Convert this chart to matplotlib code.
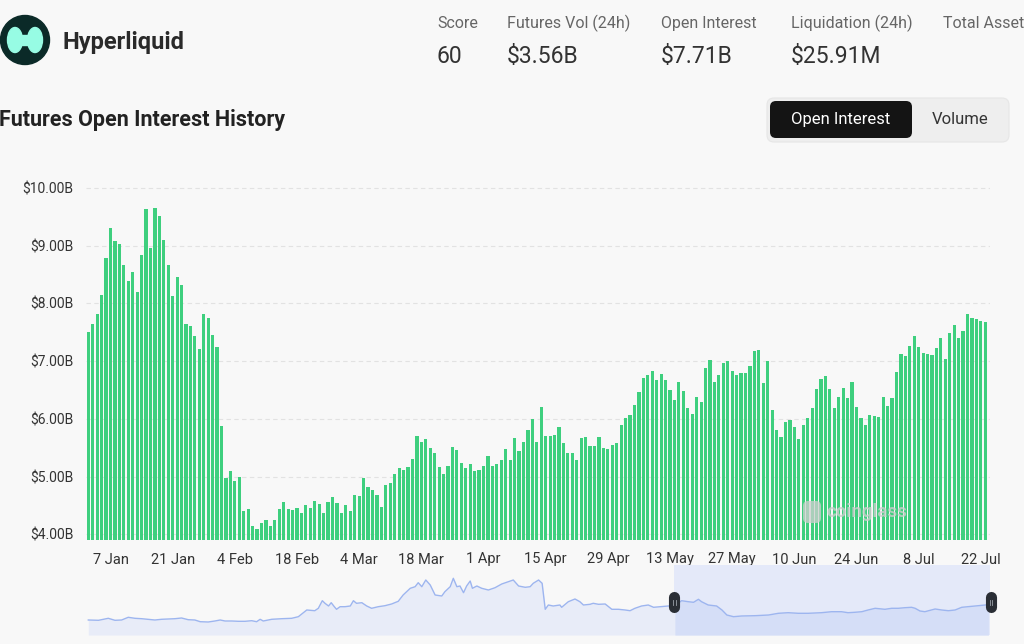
import matplotlib
matplotlib.use('Agg')
import matplotlib.pyplot as plt
import numpy as np
from matplotlib.patches import FancyBboxPatch, Ellipse, Circle, Rectangle

plt.rcParams['font.family'] = ['Roboto', 'DejaVu Sans']

# Daily futures open interest (in $B), 2 Jan -> 22 Jul
oi_values = [
    7.50, 7.64, 7.81, 8.15, 8.79, 9.31, 9.08, 9.03, 8.67, 8.38, 8.54, 8.20, 8.83, 9.64, 8.96,
    9.65, 9.52, 9.09, 8.66, 8.12, 8.46, 8.31, 7.65, 7.61, 7.43, 7.21, 7.81, 7.75, 7.45, 7.24,
    5.87, 4.98, 5.10, 4.92, 5.00,
    4.41, 4.43, 4.14, 4.09, 4.19, 4.25, 4.14, 4.25, 4.44, 4.55, 4.43, 4.42, 4.46, 4.36, 4.51,
    4.46, 4.58, 4.53, 4.37, 4.56, 4.65, 4.54, 4.36, 4.50, 4.40, 4.68, 4.66, 4.98, 4.82, 4.76,
    4.68, 4.47, 4.86, 4.89,
    5.05, 5.14, 5.11, 5.17, 5.30, 5.71, 5.59, 5.65, 5.49, 5.41, 5.17, 5.04, 5.19, 5.51, 5.46,
    5.23, 5.14, 5.21, 5.09, 5.11, 5.19, 5.35, 5.18, 5.22, 5.28, 5.48, 5.28, 5.66, 5.44, 5.59,
    5.81, 6.00, 5.59,
    6.21, 5.71, 5.70, 5.72, 5.86, 5.58, 5.40, 5.40, 5.28, 5.66, 5.69, 5.52, 5.52, 5.69, 5.50,
    5.47, 5.55, 5.58, 5.90, 6.01, 6.06, 6.24, 6.46, 6.71, 6.76, 6.82, 6.68, 6.77, 6.68, 6.50,
    6.33, 6.63, 6.48, 6.18,
    6.09, 6.37, 6.29, 6.88, 7.01, 6.64, 6.76, 6.96, 7.00, 6.82, 6.75, 6.79, 6.80, 6.92, 7.17,
    7.20, 6.62, 7.00, 6.15, 5.81, 5.69, 5.95, 5.98, 5.86, 5.65, 5.89, 6.02, 6.18, 6.52, 6.69,
    6.74, 6.51, 6.18, 6.37,
    6.53, 6.36, 6.63, 6.21, 6.02, 5.89, 6.07, 6.05, 6.03, 6.37, 6.22, 6.36, 6.81, 7.12, 7.08,
    7.26, 7.43, 7.25, 7.14, 7.12, 7.11, 7.23, 7.40, 7.04, 7.49, 7.62, 7.40, 7.52, 7.81, 7.75,
    7.72, 7.70, 7.67,
]
tick_idx = list(range(5, 203, 14))
tick_labels = ['7 Jan', '21 Jan', '4 Feb', '18 Feb', '4 Mar', '18 Mar', '1 Apr', '15 Apr',
               '29 Apr', '13 May', '27 May', '10 Jun', '24 Jun', '8 Jul', '22 Jul']
y_ticks = [4, 5, 6, 7, 8, 9, 10]

# navigator (overview) series, relative units, sampled at day index
nav_day = [0, 2.3, 4.5, 6.0, 7.5, 9.0, 10.5, 12.0, 13.5, 15.0, 16.5, 18.0, 19.5, 21.0, 22.5,
           24.0, 25.2, 27.0, 28.5, 29.7, 30.8, 32.3, 33.8, 35.3, 36.8, 37.9, 38.7, 39.4, 41.3,
           43.6, 45.8, 47.3, 49.2, 51.0, 51.8, 52.7, 53.3, 54.1, 54.7, 55.4, 55.9, 56.7, 57.8,
           59.0, 59.7, 60.4, 61.6, 62.7, 63.8, 65.3, 66.8, 68.3, 69.8, 70.9, 72.5, 73.6, 74.3,
           75.1, 76.0, 77.0, 78.1, 79.6, 80.3, 81.5, 82.2, 83.0, 83.7, 84.5, 85.2, 86.0, 86.5,
           87.5, 88.6, 90.1, 91.6, 93.1, 94.6, 95.7, 96.9, 98.4, 99.5, 100.2, 101.4, 102.2,
           102.9, 103.6, 104.7, 106.2, 106.6, 108.1, 109.6, 110.7, 111.5, 113.0, 113.7, 114.9,
           116.4, 117.9, 119.4, 120.9, 122.0, 123.1, 124.6, 126.1, 127.3, 128.8, 130.6, 132.1,
           133.6, 135.1, 136.3, 137.4, 138.1, 139.6, 141.5, 142.7, 143.8, 145.3, 147.1, 150.1,
           153.2, 155.4, 157.6, 159.9, 162.1, 165.1, 167.4, 169.6, 171.1, 172.6, 174.2, 175.6,
           177.2, 179.4, 180.9, 182.4, 183.9, 185.4, 186.2, 187.3, 188.4, 189.9, 190.7, 192.2,
           193.7, 195.2, 196.7, 198.2, 199.7, 201.2, 202.7]
nav_val = [15, 14.7, 16.7, 14.7, 15, 17.7, 16.7, 16.3, 15.7, 15, 15.7, 16, 16.3, 17, 15.3,
           15, 13.3, 13, 14, 15, 14, 14, 13.7, 13.7, 14.3, 13.3, 15.7, 14, 15.7,
           16.3, 16.7, 18.3, 25, 24.3, 26.7, 34.3, 31.7, 29, 32.3, 28.3, 25.7, 28.3, 28.3,
           29, 34.3, 31.7, 32.3, 29, 26.7, 28.3, 29.3, 31, 33.7, 40, 46.7, 48.3, 52.3,
           48.3, 55, 50, 40, 39, 43.3, 48.3, 56.7, 48.3, 49, 42.3, 49, 54, 46.7,
           49, 46.7, 45, 47.3, 51, 53.3, 55, 49, 47.7, 48.3, 51.7, 55, 51.7,
           25.7, 30, 29, 30, 27.7, 33.3, 36, 33.3, 30, 30.7, 31.7, 30.7,
           31, 25.7, 25.7, 25, 24.3, 26.7, 29, 30, 27.7, 28.3, 29, 29,
           34.3, 33.3, 32.7, 35.7, 33.3, 30, 29, 25, 20, 18.3, 19, 19.3,
           20, 21.7, 22.3, 21.7, 21.7, 22.3, 23.3, 23.3, 22.3, 22.7, 23.3, 25,
           26.7, 25.7, 26.7, 26.7, 27.3, 27.7, 26.7, 24, 23.3, 25, 26, 25,
           24.3, 25, 27.7, 28.3, 29, 29.7, 30.3]
sel_start, sel_end = 132, 203.2

W, H = 1024, 644
BG = '#f8f8f8'
GREEN = '#3ecf7e'


def rect(left, top, right, bottom):
    return [left / W, 1 - bottom / H, (right - left) / W, (bottom - top) / H]


fig = plt.figure(figsize=(W / 100, H / 100), dpi=100)
fig.patch.set_facecolor(BG)

# overlay in pixel coords for header / decorations
ov = fig.add_axes([0, 0, 1, 1])
ov.set_xlim(0, W)
ov.set_ylim(H, 0)
ov.set_facecolor('none')
ov.axis('off')

# logo
ov.add_patch(Circle((25, 40), 24.5, color='#0b2a28'))
ov.add_patch(Ellipse((15, 40), 15, 25, color='#97fce4'))
ov.add_patch(Ellipse((35, 40), 15, 25, color='#97fce4'))
ov.add_patch(Rectangle((15, 35), 20, 10, color='#97fce4'))
ov.text(63, 42, 'Hyperliquid', fontsize=17, fontweight='semibold', color='#2a2a2a',
        va='center', ha='left')

stats = [(437, 'Score', '60'), (507, 'Futures Vol (24h)', '$3.56B'),
         (661, 'Open Interest', '$7.71B'), (791, 'Liquidation (24h)', '$25.91M'),
         (943, 'Total Asset', '')]
for sx, lab, val in stats:
    ov.text(sx, 23, lab, fontsize=11.5, color='#666666', va='center', ha='left')
    if val:
        ov.text(sx, 56, val, fontsize=16.5, color='#333333', va='center', ha='left')

ov.text(-1, 120, 'Futures Open Interest History', fontsize=15.5, fontweight='bold',
        color='#222222', va='center', ha='left')

# toggle
ov.add_patch(FancyBboxPatch((767, 98), 242, 44, boxstyle='round,pad=0,rounding_size=7',
                            facecolor='#eeeeee', edgecolor='#e6e6e6', lw=0.8))
ov.add_patch(FancyBboxPatch((770, 101), 142, 37, boxstyle='round,pad=0,rounding_size=6',
                            facecolor='#141414', edgecolor='none'))
ov.text(841, 119.5, 'Open Interest', fontsize=12, color='white', va='center', ha='center')
ov.text(960, 119.5, 'Volume', fontsize=12, color='#333333', va='center', ha='center')

# main bar chart
ax = fig.add_axes(rect(86, 185, 990, 540))
ax.set_facecolor('none')
x = np.arange(len(oi_values))
ax.bar(x, oi_values, width=0.72, color=GREEN, zorder=2)
ax.set_xlim(-0.52, 203.06)
ax.set_ylim(3.9, 10.05)
ax.set_yticks(y_ticks)
ax.set_yticklabels([f'${v:.2f}B' for v in y_ticks], fontsize=10, color='#333333')
ax.set_xticks(tick_idx)
ax.set_xticklabels(tick_labels, fontsize=10.5, color='#333333')
ax.tick_params(axis='both', length=0)
ax.tick_params(axis='y', pad=9)
ax.tick_params(axis='x', pad=9)
ax.yaxis.grid(True, color='#e2e2e2', linestyle=(0, (4, 3)), lw=0.8)
ax.set_axisbelow(True)
for s in ax.spines.values():
    s.set_visible(False)

# watermark on top of the bars
wm = fig.add_axes([0, 0, 1, 1], zorder=5)
wm.set_xlim(0, W)
wm.set_ylim(H, 0)
wm.set_facecolor('none')
wm.axis('off')
wm.add_patch(FancyBboxPatch((803, 501), 18, 22, boxstyle='round,pad=0,rounding_size=5',
                            facecolor='#cfcfcf', edgecolor='none', alpha=0.75))
wm.text(826, 512, 'coinglass', fontsize=13.5, fontweight='bold', color='#cdcdcd',
        va='center', ha='left', alpha=0.8)

# navigator
nav = fig.add_axes(rect(86, 565, 990, 635))
nav.set_facecolor('none')
nav.set_xlim(-0.52, 203.06)
nav.set_ylim(0, 70)
nd = np.array(nav_day)
nv = np.array(nav_val)
nav.axvspan(sel_start, sel_end, color='#e4e9f9', lw=0, zorder=0)
nav.fill_between(nd, 0, nv, color='#e8ecf8', lw=0, zorder=1)
nav.fill_between(nd, 0, nv, where=nd >= sel_start - 0.6, color='#d5def7', lw=0, zorder=1)
nav.plot(nd, nv, color='#9db5ef', lw=1, zorder=2)
for hx in (sel_start, sel_end):
    nav.plot([hx, hx], [28, 38], color='#2a2e35', lw=8, solid_capstyle='round', zorder=3,
             clip_on=False)
    nav.plot([hx - 0.25, hx - 0.25], [30.5, 35.5], color='#9aa0a8', lw=0.6, zorder=4,
             clip_on=False)
    nav.plot([hx + 0.35, hx + 0.35], [30.5, 35.5], color='#9aa0a8', lw=0.6, zorder=4,
             clip_on=False)
nav.axis('off')

fig.savefig('out.png', dpi=100, facecolor=BG)
